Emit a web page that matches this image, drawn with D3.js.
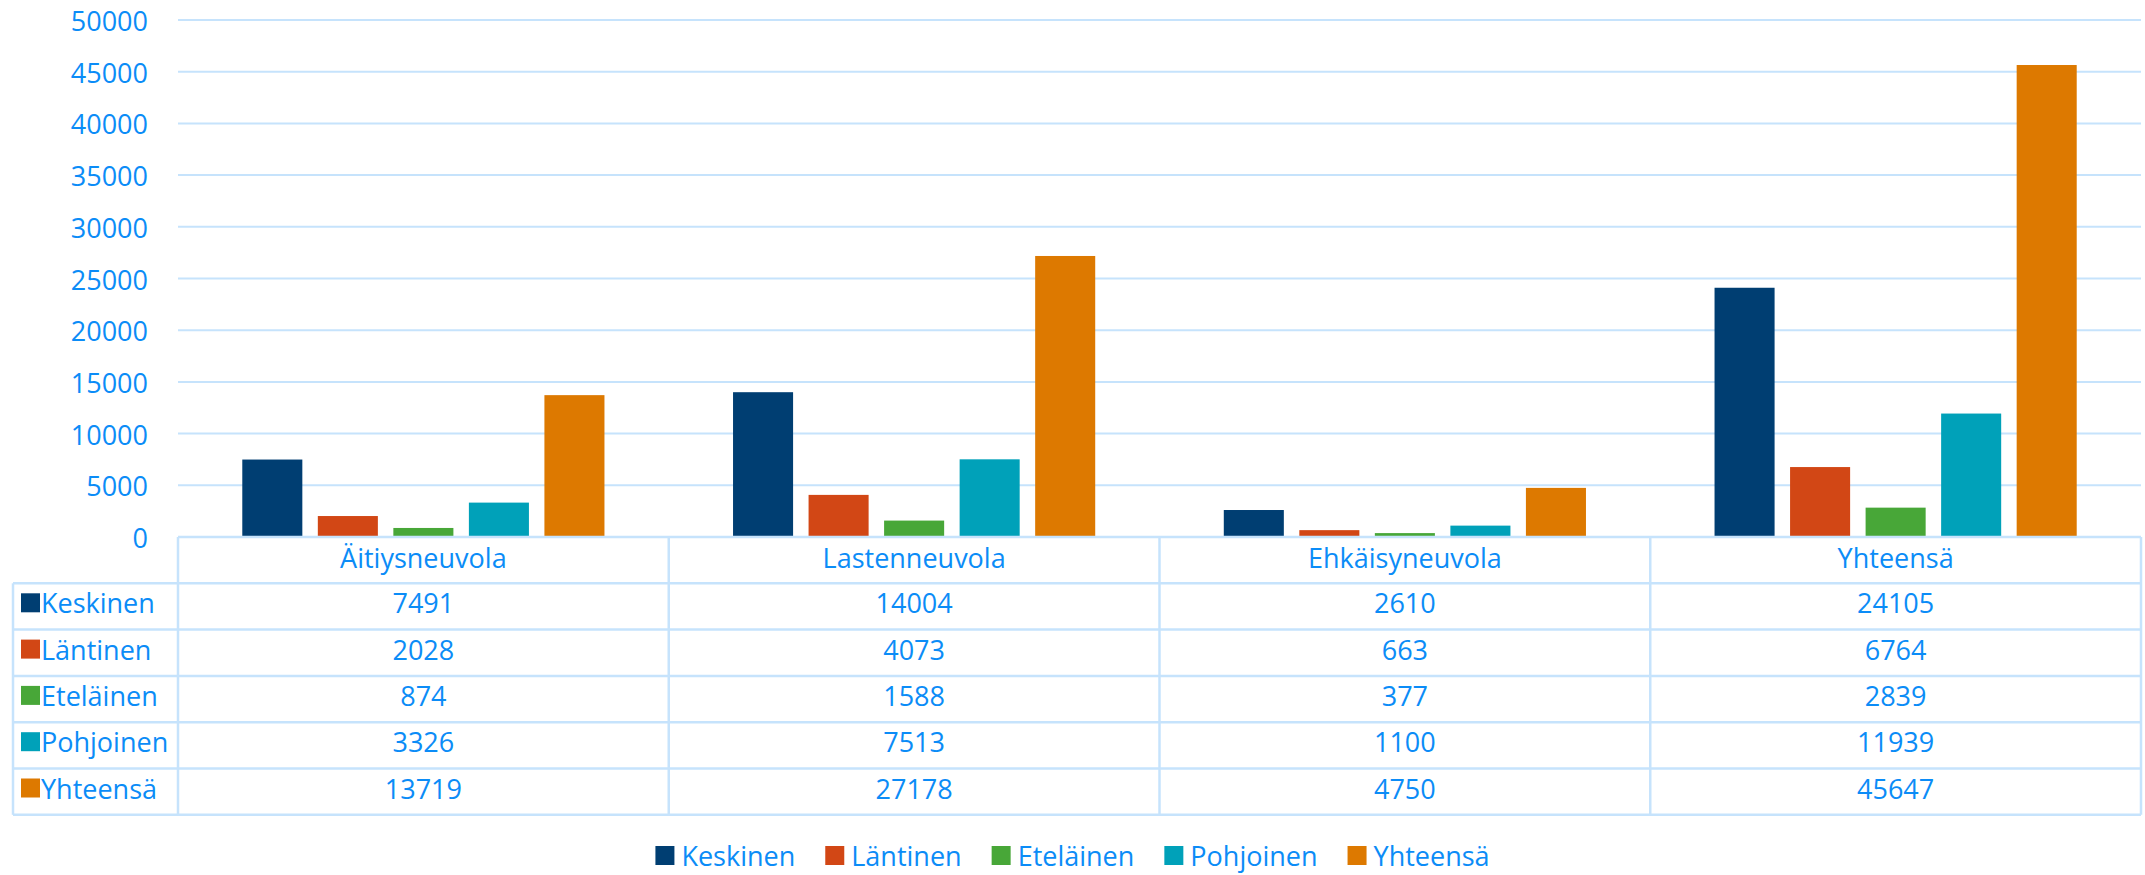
<!DOCTYPE html>
<html>
<head>
<meta charset="utf-8">
<script src="https://cdn.jsdelivr.net/npm/d3@7"></script>
<style>
  body { margin: 0; background: #fff; }
  text { font-family: "Open Sans", sans-serif; fill: #0b8cf7; }
</style>
</head>
<body>
<div id="chart"></div>
<script>
// data
const categories = ["Äitiysneuvola", "Lastenneuvola", "Ehkäisyneuvola", "Yhteensä"];
const series = ["Keskinen", "Läntinen", "Eteläinen", "Pohjoinen", "Yhteensä"];
const keskinen = [7491, 14004, 2610, 24105];
const lantinen = [2028, 4073, 663, 6764];
const etelainen = [874, 1588, 377, 2839];
const pohjoinen = [3326, 7513, 1100, 11939];
const yhteensa = [13719, 27178, 4750, 45647];
const yTicks = [0, 5000, 10000, 15000, 20000, 25000, 30000, 35000, 40000, 45000, 50000];

const values = [keskinen, lantinen, etelainen, pohjoinen, yhteensa];
const colors = ["#003e72", "#d24715", "#48a738", "#00a1b9", "#dd7900"];

const width = 2145;
const height = 875;
const gridColor = "#c6e3fc";
const fontSize = 27;

const svg = d3.select('#chart')
    .append('svg')
    .attr('width', width)
    .attr('height', height)

const plotLeft = 178, plotRight = 2141, plotTop = 20, zero = 537;
const rowH = 46.3;
const tableLeft = 13;

const y = d3.scaleLinear().domain([0, 50000]).range([zero, plotTop]);

// columns of the table (no padding) and bar groups inside them
const col = d3.scaleBand().domain(categories).range([plotLeft, plotRight]);
const x0 = d3.scaleBand().domain(categories).range([plotLeft, plotRight])
    .paddingInner(0.262).paddingOuter(0.131);
const x1 = d3.scaleBand().domain(series).range([0, x0.bandwidth()])
    .paddingInner(0.205);

// gridlines
svg.append('g')
    .selectAll('line')
    .data(yTicks.filter(d => d > 0))
    .enter()
    .append('line')
    .attr('x1', plotLeft)
    .attr('x2', plotRight)
    .attr('y1', d => y(d))
    .attr('y2', d => y(d))
    .attr('stroke', gridColor)
    .attr('stroke-width', 2)

// y tick labels
svg.append('g')
    .selectAll('text')
    .data(yTicks)
    .enter()
    .append('text')
    .attr('x', 148)
    .attr('y', d => y(d) + 11)
    .attr('text-anchor', 'end')
    .style('font-size', fontSize + 'px')
    .text(d => d)

// bars
const groups = svg.append('g')
    .selectAll('g')
    .data(categories)
    .enter()
    .append('g')
    .attr('transform', d => `translate(${x0(d)},0)`)

groups.selectAll('rect')
    .data((c, i) => series.map((s, j) => ({ s: s, v: values[j][i], color: colors[j] })))
    .enter()
    .append('rect')
    .attr('x', d => x1(d.s))
    .attr('width', x1.bandwidth())
    .attr('y', d => y(d.v))
    .attr('height', d => zero - y(d.v))
    .attr('fill', d => d.color)

// data table
const table = svg.append('g')
const rowTop = i => zero + i * rowH;   // 0 = header row
const nRows = series.length + 1;

// horizontal lines
table.append('line')
    .attr('x1', plotLeft).attr('x2', plotRight)
    .attr('y1', zero).attr('y2', zero)
    .attr('stroke', gridColor).attr('stroke-width', 2.5)
for (let i = 1; i <= nRows; i++) {
    table.append('line')
        .attr('x1', tableLeft).attr('x2', plotRight)
        .attr('y1', rowTop(i)).attr('y2', rowTop(i))
        .attr('stroke', gridColor).attr('stroke-width', 2.5)
}
// vertical lines
table.append('line')
    .attr('x1', tableLeft).attr('x2', tableLeft)
    .attr('y1', rowTop(1)).attr('y2', rowTop(nRows))
    .attr('stroke', gridColor).attr('stroke-width', 2.5)
const colEdges = categories.map(c => col(c)).concat([plotRight]);
table.selectAll('.vline')
    .data(colEdges)
    .enter()
    .append('line')
    .attr('class', 'vline')
    .attr('x1', d => d).attr('x2', d => d)
    .attr('y1', zero).attr('y2', rowTop(nRows))
    .attr('stroke', gridColor).attr('stroke-width', 2.5)

// header
table.selectAll('.head')
    .data(categories)
    .enter()
    .append('text')
    .attr('class', 'head')
    .attr('x', d => col(d) + col.bandwidth() / 2)
    .attr('y', rowTop(0) + 31)
    .attr('text-anchor', 'middle')
    .style('font-size', fontSize + 'px')
    .text(d => d)

// rows
series.forEach((s, j) => {
    const ty = rowTop(j + 1);
    table.append('rect')
        .attr('x', 21).attr('y', ty + 10)
        .attr('width', 19).attr('height', 19)
        .attr('fill', colors[j])
    table.append('text')
        .attr('x', 41)
        .attr('y', ty + 30)
        .style('font-size', fontSize + 'px')
        .text(s)
    table.selectAll('.v' + j)
        .data(values[j])
        .enter()
        .append('text')
        .attr('x', (d, i) => col(categories[i]) + col.bandwidth() / 2)
        .attr('y', ty + 30)
        .attr('text-anchor', 'middle')
        .style('font-size', fontSize + 'px')
        .text(d => d)
})

// legend
const legend = svg.append('g')
let lx = 0;
series.forEach((s, j) => {
    const item = legend.append('g').attr('transform', `translate(${lx},0)`)
    item.append('rect')
        .attr('x', 0).attr('y', 846)
        .attr('width', 19).attr('height', 19)
        .attr('fill', colors[j])
    const t = item.append('text')
        .attr('x', 26).attr('y', 866)
        .style('font-size', fontSize + 'px')
        .text(s)
    lx += 26 + t.node().getComputedTextLength() + 30;
})
const legendW = lx - 30;
legend.attr('transform', `translate(${(width - legendW) / 2},0)`)
</script>
</body>
</html>
